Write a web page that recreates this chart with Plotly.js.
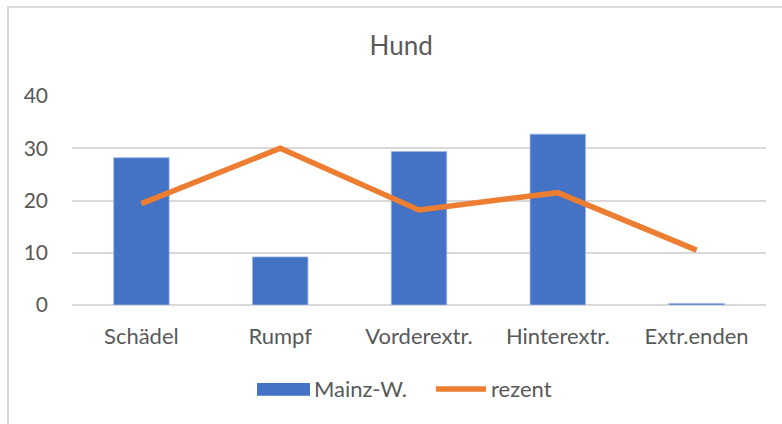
<!DOCTYPE html>
<html>
<head>
<meta charset="utf-8">
<script src="https://cdn.plot.ly/plotly-3.0.1.min.js"></script>
<style>
  html, body { margin: 0; padding: 0; background: #fff; }
  #wrap { position: relative; width: 782px; height: 424px; overflow: hidden; }
  #frame { position: absolute; left: 7px; top: 6px; width: 800px; height: 500px;
           border-left: 2px solid #d9d9d9; border-top: 2px solid #d9d9d9; box-sizing: border-box; pointer-events: none; }
  #chart { position: absolute; left: 0; top: 0; width: 782px; height: 424px; }
</style>
</head>
<body>
<div id="wrap">
  <div id="chart"></div>
  <div id="frame"></div>
</div>
<script>
const categories = ["Schädel", "Rumpf", "Vorderextr.", "Hinterextr.", "Extr.enden"];
const mainzW = [28.2, 9.2, 29.4, 32.7, 0.3];
const rezent = [19.4, 30.0, 18.2, 21.5, 10.5];
const yTicks = [0, 10, 20, 30, 40];
const seriesNames = ["Mainz-W.", "rezent"];

const FONT = "Lato, 'Open Sans', sans-serif";
const GREY = "#595959";
const BLUE = "#4472c4";
const ORANGE = "#ed7d31";

const traces = [
  { type: "bar", name: seriesNames[0], x: categories, y: mainzW,
    marker: { color: BLUE, line: { color: "rgba(160,185,230,0.8)", width: 1 } },
    hoverinfo: "x+y", showlegend: false },
  { type: "scatter", mode: "lines", name: seriesNames[1], x: categories, y: rezent,
    line: { color: ORANGE, width: 5.5, shape: "linear" },
    hoverinfo: "x+y", showlegend: false }
];

// legend drawn in paper coordinates (plot spans x 72..766 px, y 95.7..305 px)
const pw = 694, ph = 209.3, pl = 72, pb = 305;
const px = v => (v - pl) / pw;
const py = v => (pb - v) / ph;

const layout = {
  width: 782, height: 424,
  margin: { l: 72, r: 16, t: 96, b: 119 },
  paper_bgcolor: "rgba(0,0,0,0)", plot_bgcolor: "#fff",
  font: { family: FONT, color: GREY, size: 20 },
  title: { text: "Hund", font: { family: FONT, size: 26, color: GREY },
           x: 0.513, xanchor: "center", y: 1 - 46/424, yanchor: "middle" },
  bargap: 0.6,
  showlegend: false,
  xaxis: { type: "category", showgrid: false, zeroline: false, showline: false,
           ticks: "", ticklabelstandoff: 16, tickfont: { size: 22, color: GREY, family: FONT } },
  yaxis: { range: [0, 40], tickvals: yTicks, ticktext: yTicks.map(String),
           showgrid: true, gridcolor: "#d9d9d9", gridwidth: 2,
           zeroline: true, zerolinecolor: "#d9d9d9", zerolinewidth: 2,
           showline: false, ticks: "", ticklabelstandoff: 23,
           tickfont: { size: 21, color: GREY, family: FONT } },
  shapes: [
    { type: "rect", xref: "paper", yref: "paper", x0: px(257), x1: px(310), y0: py(396), y1: py(383),
      fillcolor: BLUE, line: { width: 0 } },
    { type: "line", xref: "paper", yref: "paper", x0: px(436), x1: px(486), y0: py(389), y1: py(389),
      line: { color: ORANGE, width: 5.5 } }
  ],
  annotations: [
    { xref: "paper", yref: "paper", x: px(312), y: py(389), xanchor: "left", yanchor: "middle",
      text: seriesNames[0], showarrow: false, font: { family: FONT, size: 22, color: GREY } },
    { xref: "paper", yref: "paper", x: px(489), y: py(389), xanchor: "left", yanchor: "middle",
      text: seriesNames[1], showarrow: false, font: { family: FONT, size: 22, color: GREY } }
  ]
};

Plotly.newPlot("chart", traces, layout, { displayModeBar: false, staticPlot: true });
</script>
</body>
</html>
